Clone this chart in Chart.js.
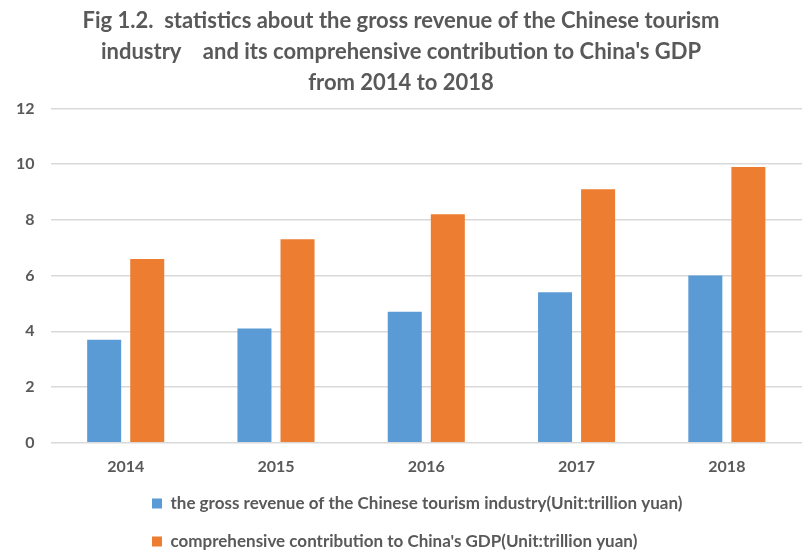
<!DOCTYPE html>
<html>
<head>
<meta charset="utf-8">
<script src="https://cdn.jsdelivr.net/npm/chart.js@4/dist/chart.umd.min.js"></script>
<style>
  html, body { margin: 0; padding: 0; background: #fff; }
  #wrap { width: 802px; height: 551px; }
</style>
</head>
<body>
<div id="wrap"><canvas id="chart" width="802" height="551"></canvas></div>
<script>
const years = ['2014', '2015', '2016', '2017', '2018'];
const grossRevenue = [3.7, 4.1, 4.7, 5.4, 6.0];
const gdpContribution = [6.6, 7.3, 8.2, 9.1, 9.9];
const yTicks = [0, 2, 4, 6, 8, 10, 12];

const GREY = '#595959';
const FONT = 'Lato, "Noto Sans", sans-serif';

// put the legend rows under the first category, a bit below the year labels
const legendPlace = {
  id: 'legendPlace',
  afterLayout(chart) {
    chart.legend.left = 131;
    chart.legend.top = 474;
  }
};

new Chart(document.getElementById('chart').getContext('2d'), {
  type: 'bar',
  data: {
    labels: years,
    datasets: [
      {
        label: 'the gross revenue of the Chinese tourism industry(Unit:trillion yuan)',
        data: grossRevenue,
        backgroundColor: '#5b9bd5',
        categoryPercentage: 0.573,
        barPercentage: 0.79
      },
      {
        label: "comprehensive contribution to China's GDP(Unit:trillion yuan)",
        data: gdpContribution,
        backgroundColor: '#ed7d31',
        categoryPercentage: 0.573,
        barPercentage: 0.79
      }
    ]
  },
  plugins: [legendPlace],
  options: {
    responsive: false,
    animation: false,
    layout: { padding: { left: 0, right: 0, top: 4, bottom: -17 } },
    scales: {
      x: {
        grid: { display: false },
        border: { display: false },
        ticks: {
          color: GREY,
          padding: 6,
          font: { family: FONT, size: 16, weight: 'bold' }
        }
      },
      y: {
        min: 0,
        max: 12,
        afterBuildTicks(axis) {
          axis.ticks = yTicks.map(v => ({ value: v }));
        },
        grid: { color: '#d9d9d9', lineWidth: 1.5, drawTicks: false },
        border: { display: false },
        ticks: {
          color: GREY,
          padding: 16,
          font: { family: FONT, size: 16, weight: 'bold' }
        }
      }
    },
    plugins: {
      title: {
        display: true,
        text: [
          'Fig 1.2.  statistics about the gross revenue of the Chinese tourism',
          "industry    and its comprehensive contribution to China's GDP",
          'from 2014 to 2018'
        ],
        color: GREY,
        font: { family: FONT, size: 22, weight: 'bold', lineHeight: 1.4 },
        padding: { top: 2, bottom: 10 }
      },
      legend: {
        position: 'bottom',
        align: 'start',
        labels: {
          color: GREY,
          boxWidth: 10,
          boxHeight: 10,
          padding: 21,
          font: { family: FONT, size: 17, weight: 'bold' }
        }
      },
      tooltip: { enabled: false }
    }
  }
});
</script>
</body>
</html>
